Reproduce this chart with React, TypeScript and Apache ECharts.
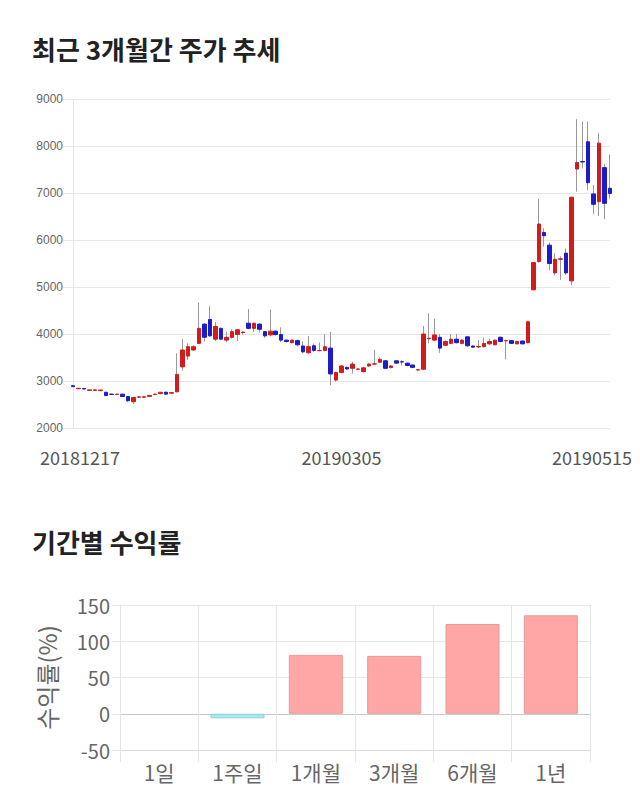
import React, { useEffect, useRef } from 'react';
import * as echarts from 'echarts';

// trading days per month
const monthDays: [string, number[]][] = [
  ['201812', [17, 18, 19, 20, 21, 24, 26, 27, 28]],
  ['201901', [2, 3, 4, 7, 8, 9, 10, 11, 14, 15, 16, 17, 18, 21, 22, 23, 24, 25, 28, 29, 30, 31]],
  ['201902', [1, 7, 8, 11, 12, 13, 14, 15, 18, 19, 20, 21, 22, 25, 26, 27, 28]],
  ['201903', [4, 5, 6, 7, 8, 11, 12, 13, 14, 15, 18, 19, 20, 21, 22, 25, 26, 27, 28, 29]],
  ['201904', [1, 2, 3, 4, 5, 8, 9, 10, 11, 12, 15, 16, 17, 18, 19, 22, 23, 24, 25, 26, 29, 30]],
  ['201905', [2, 3, 7, 8, 9, 10, 13, 14, 15]],
];
const dates: string[] = [];
monthDays.forEach(([ym, days]) => days.forEach((d) => dates.push(ym + String(d).padStart(2, '0'))));

const opens = [
  2900, 2835, 2840, 2800, 2800, 2795, 2760, 2720, 2712, 2720,
  2670, 2560, 2655, 2655, 2672, 2712, 2732, 2762, 2742, 2770,
  3300, 3530, 3660, 3800, 4210, 4310, 3890, 4120, 3870, 3930,
  3990, 4030, 4230, 4120, 4210, 4050, 3980, 4060, 3990, 3870,
  3815, 3860, 3745, 3600, 3750, 3645, 3650, 3700, 3020, 3180,
  3290, 3270, 3250, 3200, 3320, 3360, 3400, 3430, 3285, 3430,
  3410, 3380, 3340, 3235, 3250, 3900, 3870, 3930, 3760, 3800,
  3890, 3800, 3940, 3745, 3725, 3730, 3790, 3770, 3930, 3855,
  3860, 3790, 3850, 3815, 4940, 5540, 6160, 5890, 5300, 5590,
  5720, 5130, 7510, 7670, 8090, 6980, 6815, 7540, 7100,
];
const closes = [
  2880, 2845, 2830, 2810, 2812, 2808, 2690, 2715, 2720, 2670,
  2580, 2650, 2662, 2665, 2692, 2720, 2760, 2720, 2752, 3140,
  3660, 3730, 3730, 4120, 3930, 3960, 4160, 3890, 3930, 4050,
  4090, 4040, 4120, 4230, 4100, 3960, 4060, 3990, 3870, 3840,
  3870, 3770, 3620, 3730, 3650, 3650, 3730, 3150, 3180, 3320,
  3255, 3360, 3255, 3280, 3360, 3365, 3460, 3270, 3320, 3380,
  3405, 3330, 3290, 3240, 4000, 3910, 3980, 3700, 3840, 3890,
  3815, 3870, 3750, 3720, 3735, 3800, 3840, 3870, 3840, 3860,
  3800, 3840, 3790, 4260, 5520, 6340, 6090, 5500, 5590, 5600,
  5300, 6910, 7650, 7660, 7220, 6760, 8060, 6780, 6990,
];
const lows = [
  2870, 2830, 2820, 2790, 2790, 2785, 2680, 2700, 2700, 2660,
  2550, 2510, 2640, 2640, 2660, 2700, 2720, 2710, 2730, 2760,
  3220, 3450, 3640, 3790, 3840, 3940, 3850, 3870, 3820, 3900,
  3850, 3990, 4100, 4040, 4030, 3920, 3950, 3960, 3830, 3820,
  3800, 3740, 3590, 3580, 3620, 3630, 3630, 2910, 2990, 3160,
  3240, 3160, 3240, 3180, 3300, 3340, 3380, 3250, 3270, 3360,
  3330, 3310, 3270, 3220, 3240, 3800, 3850, 3600, 3740, 3780,
  3800, 3780, 3720, 3700, 3700, 3710, 3770, 3760, 3820, 3460,
  3790, 3780, 3780, 3800, 4930, 5520, 5860, 5360, 5250, 5150,
  5260, 5040, 7030, 7520, 7060, 6550, 6510, 6440, 6880,
];
const highs = [
  2910, 2850, 2850, 2820, 2820, 2815, 2770, 2730, 2730, 2730,
  2680, 2660, 2670, 2670, 2700, 2730, 2770, 2770, 2760, 3590,
  3890, 3800, 3760, 4670, 4230, 4600, 4260, 4140, 4050, 4100,
  4100, 4060, 4530, 4240, 4230, 4060, 4520, 4080, 4140, 3880,
  3880, 3880, 3840, 3960, 3800, 3820, 4000, 4050, 3200, 3340,
  3310, 3410, 3270, 3300, 3380, 3660, 3500, 3440, 3340, 3440,
  3440, 3390, 3350, 3250, 4170, 4440, 4330, 4000, 3860, 4000,
  4000, 3890, 3960, 3760, 3870, 3920, 3900, 3880, 3950, 3880,
  3870, 3860, 3860, 4280, 5530, 6870, 6250, 5950, 5720, 5650,
  5820, 6920, 8570, 8520, 8520, 7170, 8280, 7620, 7820,
];
const priceTicks = { min: 2000, max: 9000, interval: 1000 };
const dateLabelIdx = [0, 49, 98];

const periods = ['1일', '1주일', '1개월', '3개월', '6개월', '1년'];
const returns = [0, -6.3, 81.2, 79.8, 123.8, 135.8];
const returnTicks = { min: -50, max: 150, interval: 50 };

const FONT = "'Noto Sans CJK KR', 'Noto Sans', sans-serif";
const UP = '#d11c1c';
const DOWN = '#1c1cc8';
const GRID = '#e6e6e6';

export default function App() {
  const ref = useRef<HTMLDivElement>(null);
  useEffect(() => {
    if (!ref.current) return;
    const chart = echarts.init(ref.current, null, { renderer: 'svg' });
    const wickData = dates.map((_, i) => [opens[i], closes[i], lows[i], highs[i]]);
    const bodyData = dates.map((_, i) => [
      opens[i], closes[i], Math.min(opens[i], closes[i]), Math.max(opens[i], closes[i]),
    ]);
    const barData = returns.map((v) => ({
      value: v,
      itemStyle: {
        color: v >= 0 ? '#ffa6a6' : '#a8e8f2',
        borderColor: v >= 0 ? '#e89a9a' : '#8cd2df',
        borderWidth: v === 0 ? 0 : 1,
      },
    }));
    const lbl = (extra: any) => ({ fontSize: 18, color: '#555', fontFamily: FONT, ...extra });
    chart.setOption({
      animation: false,
      textStyle: { fontFamily: FONT },
      title: [
        {
          text: '최근 3개월간 주가 추세', left: 32, top: 35, padding: 0,
          textStyle: { fontSize: 26, fontWeight: 'bold', color: '#222', fontFamily: FONT },
        },
        {
          text: '기간별 수익률', left: 32, top: 528, padding: 0,
          textStyle: { fontSize: 26, fontWeight: 'bold', color: '#222', fontFamily: FONT },
        },
      ],
      grid: [
        { left: 73, right: 30, top: 99, bottom: 382 },
        { left: 120, right: 50, top: 605, bottom: 60 },
      ],
      xAxis: [
        {
          type: 'category', gridIndex: 0, data: dates, boundaryGap: false,
          axisLine: { show: false }, axisTick: { show: false },
          splitLine: { show: false },
          axisLabel: {
            interval: (i: number) => dateLabelIdx.includes(i),
            margin: 20,
            formatter: (v: string, i: number) =>
              i === dateLabelIdx[0] ? `{a|${v}}` : i === dateLabelIdx[2] ? `{b|${v}}` : `{c|${v}}`,
            rich: {
              a: lbl({ padding: [0, 0, 0, 14] }),
              b: lbl({ padding: [0, 36, 0, 0] }),
              c: lbl({}),
            },
          },
        },
        {
          type: 'category', gridIndex: 1, data: periods, boundaryGap: true,
          axisLine: { show: true, onZero: false, lineStyle: { color: '#ddd' } },
          axisTick: { show: true, length: 12, lineStyle: { color: GRID } },
          splitLine: { show: true, lineStyle: { color: GRID } },
          axisLabel: { fontSize: 21, color: '#666', margin: 11, fontFamily: FONT },
        },
      ],
      yAxis: [
        {
          type: 'value', gridIndex: 0, ...priceTicks,
          axisLine: { show: true, lineStyle: { color: GRID } },
          axisTick: { show: true, length: 10, lineStyle: { color: GRID } },
          splitLine: { show: true, lineStyle: { color: GRID } },
          axisLabel: {
            fontSize: 12, color: '#666', margin: 10,
            fontFamily: 'Liberation Sans, Arial, sans-serif',
            formatter: (v: number) => String(v),
          },
        },
        {
          type: 'value', gridIndex: 1, ...returnTicks,
          name: '수익률(%)', nameLocation: 'middle', nameGap: 62, nameRotate: 90,
          nameTextStyle: { fontSize: 24, color: '#666', fontFamily: FONT },
          axisLine: { show: true, lineStyle: { color: GRID } },
          axisTick: { show: true, length: 8, lineStyle: { color: GRID } },
          splitLine: { show: true, lineStyle: { color: ['#ddd', '#c8c8c8', GRID, GRID, GRID] } },
          axisLabel: { fontSize: 20, color: '#666', margin: 10, fontFamily: FONT },
        },
      ],
      series: [
        {
          type: 'candlestick', xAxisIndex: 0, yAxisIndex: 0, data: wickData, barWidth: 1,
          itemStyle: { color: '#999', color0: '#999', borderColor: '#999', borderColor0: '#999', borderWidth: 1 },
        },
        {
          type: 'candlestick', xAxisIndex: 0, yAxisIndex: 0, data: bodyData, barWidth: 4,
          itemStyle: { color: UP, color0: DOWN, borderColor: UP, borderColor0: DOWN, borderWidth: 1 },
        },
        {
          type: 'bar', xAxisIndex: 1, yAxisIndex: 1, data: barData, barWidth: 54,
        },
      ],
    });
    return () => chart.dispose();
  }, []);
  return (
    <div
      ref={ref}
      style={{ position: 'fixed', left: 0, top: 0, width: 640, height: 810, background: '#fff' }}
    />
  );
}
